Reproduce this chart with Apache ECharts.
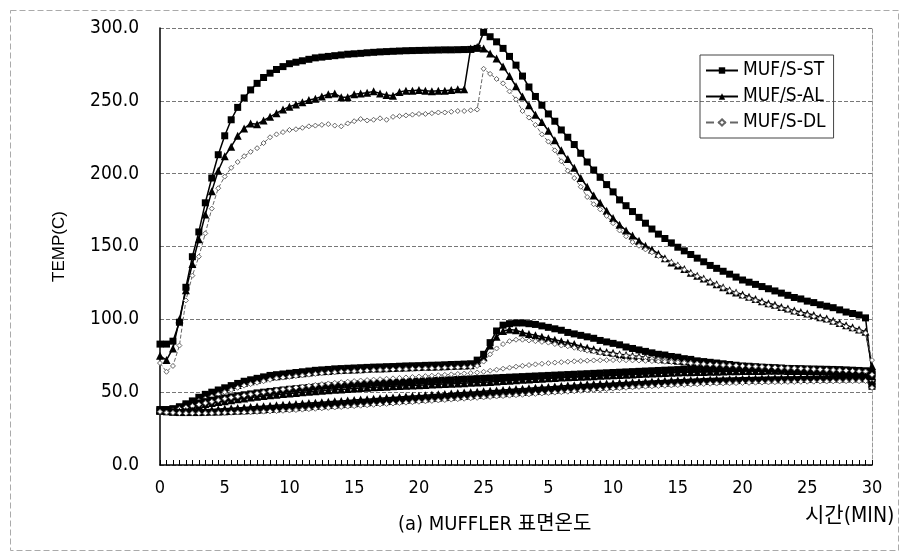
<!DOCTYPE html>
<html>
<head>
<meta charset="utf-8">
<script src="https://cdn.jsdelivr.net/npm/echarts@6/dist/echarts.min.js"></script>
<style>
  html, body { margin: 0; padding: 0; background: #fff; }
  #main { width: 904px; height: 558px; }
</style>
</head>
<body>
<div id="main"></div>
<script>
// time axis: 0..55 min every 0.5 min (heating 0-25, then cooling shown as 5..30)
const xLabels = ['0', '5', '10', '15', '20', '25', '5', '10', '15', '20', '25', '30'];
const yTicks = [0, 50, 100, 150, 200, 250, 300];

// upper group
const stTop = [
  83, 83, 85, 98, 122, 143, 160, 180, 197, 213,
  226, 237, 245.5, 252, 257.5, 262, 266, 269, 271.5, 273.5,
  275.5, 276.5, 277.5, 278.5, 279.5, 280, 280.5, 281, 281.5, 282,
  282.3, 282.6, 283, 283.3, 283.6, 283.8, 284, 284.2, 284.4, 284.5,
  284.6, 284.7, 284.8, 284.9, 285, 285, 285.1, 285.2, 285.3, 286,
  297, 294, 290.5, 286, 280.5, 274.5, 267, 259.5, 253, 247,
  241, 236, 230, 225, 220, 214, 208, 202.5, 197.5, 192.5,
  187.5, 182, 178, 174, 170, 166, 162, 158.5, 155.5, 152.5,
  149.5, 147, 144.5, 142, 139.5, 137, 135, 133, 131, 129,
  127, 125.5, 124, 122.5, 121, 119.5, 118, 116.5, 115, 114,
  112.5, 111.5, 110, 109, 108, 106.5, 105, 104, 103, 101,
  63
];
const alTop = [
  75, 72, 80, 100, 120, 138, 155, 172, 188, 202,
  212, 218.5, 226, 231, 234.5, 234, 236.5, 239, 241.5, 244,
  246, 247.5, 249, 250.5, 251.5, 253, 254.5, 255, 252.5, 252.5,
  254.5, 255, 255.5, 256.5, 255, 254, 253.5, 256, 257, 257,
  257.5, 257, 256.5, 257, 257, 257.5, 258, 258, 286, 287,
  286, 282.5, 279, 273.5, 267, 260, 253, 247, 240.5, 235.5,
  229.5, 223, 216, 210, 204, 197, 191, 185, 180, 174.5,
  169.5, 165, 161, 157.5, 154, 150.5, 148, 145, 142, 139,
  137, 134.5, 132, 130, 128, 126, 124, 122, 120, 118.5,
  117, 115.5, 114, 112.5, 111, 110, 108.5, 107.5, 106, 105,
  104, 103, 101.5, 100.5, 99, 97.5, 96, 94.5, 93, 91.5,
  68
];
const dlTop = [
  70, 64, 68, 82, 113, 130, 143, 159, 176, 190,
  198, 204, 208, 212, 215, 217.5, 221, 225, 227, 228.5,
  230, 230.5, 231.5, 232.5, 233, 233.5, 234, 233, 232.5, 234.5,
  236, 237.5, 236.5, 237, 238, 237, 239, 239.5, 240, 240.5,
  241, 241, 241.5, 242, 242, 242.5, 243, 243, 243.5, 244,
  272, 268.5, 265, 262, 256.5, 251, 243, 238.5, 233.5, 227,
  222, 216, 208.5, 202, 197, 191, 184, 179, 175.5, 171,
  166, 161, 157, 153, 150.5, 148, 146, 143.5, 141, 139,
  137, 134, 131.5, 129.5, 127.5, 125.5, 123.5, 121.5, 119.5, 118,
  116, 114.5, 113, 111.5, 110, 109, 107.5, 106.5, 105, 104,
  103, 102, 100.5, 99.5, 98, 96.5, 95, 93.5, 92, 90.5,
  72
];

// lower group with peak after 25 min
const stOut = [
  38, 38, 38.5, 40, 42, 44, 46.5, 48.5, 50, 51.5,
  53, 54.5, 56, 57.5, 58.5, 59.5, 60.5, 61.5, 62, 62.5,
  63, 63.5, 64, 64.5, 65, 65.3, 65.6, 66, 66.2, 66.4,
  66.6, 66.8, 67, 67.2, 67.3, 67.5, 67.6, 67.8, 68, 68.1,
  68.2, 68.4, 68.5, 68.6, 68.8, 69, 69.1, 69.3, 69.5, 72,
  76, 84, 92, 96, 97, 97.5, 97.5, 97, 96.5, 95.5,
  94.5, 93.5, 92.5, 91, 90, 89, 88, 87, 85.5, 84.5,
  83.5, 82.5, 81, 80, 79, 78, 77, 76, 75.5, 74.5,
  74, 73, 72.5, 71.5, 71, 70.5, 70, 69.5, 69, 68.5,
  68, 67.8, 67.5, 67.2, 67, 66.8, 66.5, 66.2, 66, 65.8,
  65.5, 65.3, 65, 64.8, 64.5, 64.3, 64, 63.8, 63.5, 63.2,
  57
];
const alOut = [
  38, 37.5, 38, 39.5, 41.5, 43.5, 45.5, 47.5, 49, 50.5,
  52, 53.5, 55, 56.5, 57.5, 58.5, 59.5, 60.5, 61, 61.5,
  62, 62.5, 63, 63.5, 64, 64.3, 64.6, 65, 65.2, 65.4,
  65.6, 65.8, 66, 66.2, 66.3, 66.5, 66.6, 66.8, 67, 67.1,
  67.2, 67.4, 67.5, 67.6, 67.8, 68, 68.1, 68.3, 68.5, 70,
  74, 82, 88, 92, 93, 92.5, 91, 90, 89, 88,
  87, 86, 85, 84, 83, 81.5, 80.5, 79.5, 78.5, 77.5,
  77, 76, 75.5, 75, 74.5, 74, 73.5, 73, 72.5, 72,
  71.5, 71, 70.5, 70, 69.5, 69, 68.8, 68.5, 68.2, 68,
  67.5, 67.2, 67, 66.7, 66.5, 66.2, 66, 65.8, 65.5, 65.3,
  65, 64.8, 64.5, 64.3, 64, 63.8, 63.5, 63.2, 63, 62.7,
  60
];
const dlOut = [
  37, 37, 37.5, 38.5, 40, 42, 44, 45.5, 47, 48.5,
  50, 51.5, 53, 54.5, 55.5, 56.5, 57.5, 58.5, 59.5, 60,
  60.5, 61, 61.5, 62, 62.5, 63, 63.3, 63.6, 64, 64.2,
  64.4, 64.6, 64.8, 65, 65.2, 65.4, 65.5, 65.7, 65.8, 66,
  66.1, 66.3, 66.4, 66.5, 66.7, 66.8, 67, 67.1, 67.3, 68,
  71, 76, 80, 83, 85, 86, 86, 85.5, 85, 84.5,
  84, 83, 82, 81.5, 80.5, 79.5, 78.5, 78, 77, 76.5,
  76, 75.5, 75, 74.5, 74, 73.5, 73, 72.5, 72, 71.5,
  71, 70.5, 70, 69.5, 69, 68.7, 68.4, 68, 67.8, 67.5,
  67.2, 67, 66.7, 66.5, 66.2, 66, 65.7, 65.5, 65.2, 65,
  64.8, 64.5, 64.3, 64, 63.8, 63.5, 63.3, 63, 62.8, 62.5,
  58
];

// middle group
const stMid = [
  38, 38, 38.5, 39.5, 40.5, 41.5, 42.5, 43.5, 44.5, 45.3,
  46, 46.8, 47.5, 48.2, 48.8, 49.5, 50, 50.5, 51, 51.5,
  52, 52.4, 52.8, 53.2, 53.6, 54, 54.3, 54.6, 54.9, 55.2,
  55.5, 55.7, 55.9, 56.1, 56.3, 56.5, 56.7, 56.9, 57.1, 57.3,
  57.5, 57.7, 57.9, 58.1, 58.3, 58.5, 58.7, 58.9, 59.1, 59.3,
  59.5, 59.7, 59.9, 60.1, 60.3, 60.5, 60.7, 60.9, 61.1, 61.3,
  61.5, 61.7, 61.9, 62.1, 62.3, 62.5, 62.7, 62.9, 63.1, 63.3,
  63.5, 63.7, 63.9, 64.1, 64.3, 64.5, 64.7, 64.9, 65.1, 65.3,
  65.5, 65.6, 65.7, 65.8, 65.9, 66, 66.1, 66.2, 66.3, 66.4,
  66.5, 66.5, 66.5, 66.5, 66.5, 66.5, 66.4, 66.3, 66.2, 66.1,
  66, 65.9, 65.8, 65.7, 65.6, 65.5, 65.3, 65.1, 64.9, 64.7,
  62
];
const alMid = [
  37.5, 37.5, 38, 38.5, 39.5, 40.3, 41, 41.8, 42.5, 43.2,
  43.8, 44.5, 45.1, 45.7, 46.3, 46.8, 47.3, 47.8, 48.3, 48.7,
  49.1, 49.5, 49.9, 50.3, 50.7, 51, 51.3, 51.6, 51.9, 52.2,
  52.5, 52.8, 53, 53.3, 53.5, 53.8, 54, 54.2, 54.4, 54.6,
  54.8, 55, 55.2, 55.4, 55.6, 55.8, 56, 56.2, 56.4, 56.6,
  56.8, 57, 57.3, 57.6, 57.9, 58.2, 58.5, 58.7, 59, 59.2,
  59.5, 59.7, 60, 60.2, 60.4, 60.6, 60.8, 61, 61.2, 61.4,
  61.6, 61.8, 62, 62.2, 62.4, 62.6, 62.8, 63, 63.2, 63.3,
  63.5, 63.6, 63.7, 63.8, 63.9, 64, 64.1, 64.2, 64.3, 64.4,
  64.5, 64.5, 64.6, 64.6, 64.7, 64.7, 64.7, 64.6, 64.6, 64.5,
  64.5, 64.4, 64.3, 64.2, 64.1, 64, 63.9, 63.8, 63.7, 63.6,
  61
];
const dlMid = [
  37, 37, 37.5, 38.5, 39.5, 40.5, 41.5, 42.5, 43.5, 44.5,
  45.5, 46.3, 47, 47.8, 48.5, 49.2, 49.9, 50.6, 51.3, 52,
  52.6, 53.2, 53.8, 54.4, 55, 55.5, 56, 56.4, 56.8, 57.2,
  57.6, 58, 58.3, 58.6, 58.9, 59.2, 59.5, 59.8, 60.1, 60.4,
  60.7, 61, 61.3, 61.6, 61.9, 62.2, 62.5, 62.8, 63.1, 63.5,
  64, 64.7, 65.4, 66.1, 66.8, 67.5, 68.1, 68.6, 69.1, 69.5,
  69.9, 70.3, 70.6, 70.9, 71.2, 71.4, 71.6, 71.8, 71.9, 72,
  72, 72, 71.9, 71.8, 71.7, 71.5, 71.3, 71.1, 70.9, 70.7,
  70.5, 70.2, 69.9, 69.6, 69.3, 69, 68.8, 68.6, 68.4, 68.2,
  68, 67.8, 67.6, 67.4, 67.2, 67, 66.8, 66.6, 66.4, 66.2,
  66, 65.8, 65.6, 65.4, 65.2, 65, 64.8, 64.6, 64.4, 64.2,
  62
];

// bottom group
const stIn = [
  37, 36.5, 36.2, 36, 36, 36, 36, 36.1, 36.2, 36.3,
  36.5, 36.7, 36.9, 37.1, 37.3, 37.5, 37.8, 38.1, 38.4, 38.7,
  39, 39.3, 39.6, 39.9, 40.2, 40.5, 40.8, 41.1, 41.4, 41.7,
  42, 42.3, 42.6, 42.9, 43.2, 43.5, 43.8, 44.1, 44.4, 44.7,
  45, 45.3, 45.6, 45.9, 46.2, 46.5, 46.8, 47.1, 47.4, 47.7,
  48, 48.3, 48.6, 48.9, 49.2, 49.5, 49.8, 50.1, 50.4, 50.7,
  51, 51.3, 51.6, 51.9, 52.2, 52.5, 52.8, 53.1, 53.4, 53.7,
  54, 54.3, 54.6, 54.9, 55.2, 55.5, 55.7, 55.9, 56.1, 56.3,
  56.5, 56.7, 56.9, 57.1, 57.3, 57.5, 57.6, 57.7, 57.8, 57.9,
  58, 58.1, 58.2, 58.3, 58.4, 58.5, 58.5, 58.6, 58.6, 58.7,
  58.8, 58.8, 58.9, 58.9, 59, 59, 59, 59.1, 59.1, 59.1,
  54
];
const alIn = [
  37.5, 37, 36.8, 36.8, 37, 37.2, 37.4, 37.7, 38, 38.3,
  38.6, 38.9, 39.2, 39.5, 39.8, 40.1, 40.4, 40.7, 41, 41.3,
  41.6, 41.9, 42.2, 42.5, 42.8, 43.1, 43.4, 43.7, 44, 44.3,
  44.6, 44.9, 45.2, 45.5, 45.8, 46.1, 46.4, 46.7, 47, 47.3,
  47.6, 47.9, 48.2, 48.5, 48.8, 49.1, 49.4, 49.7, 50, 50.3,
  50.6, 50.9, 51.2, 51.5, 51.8, 52.1, 52.4, 52.7, 53, 53.3,
  53.6, 53.9, 54.2, 54.5, 54.8, 55.1, 55.4, 55.6, 55.8, 56,
  56.2, 56.4, 56.6, 56.8, 57, 57.2, 57.4, 57.6, 57.8, 58,
  58.2, 58.3, 58.4, 58.5, 58.6, 58.7, 58.8, 58.9, 59, 59.1,
  59.2, 59.3, 59.4, 59.5, 59.6, 59.7, 59.8, 59.9, 60, 60.1,
  60.2, 60.3, 60.4, 60.5, 60.5, 60.6, 60.6, 60.7, 60.7, 60.8,
  56
];
const dlIn = [
  36.5, 36, 35.8, 35.6, 35.5, 35.5, 35.5, 35.5, 35.6, 35.7,
  35.8, 35.9, 36, 36.1, 36.2, 36.4, 36.6, 36.8, 37, 37.2,
  37.4, 37.7, 38, 38.3, 38.6, 38.9, 39.2, 39.5, 39.8, 40.1,
  40.4, 40.7, 41, 41.3, 41.6, 41.9, 42.2, 42.5, 42.8, 43.1,
  43.4, 43.7, 44, 44.3, 44.6, 44.9, 45.2, 45.5, 45.8, 46.1,
  46.4, 46.7, 47, 47.3, 47.6, 47.9, 48.2, 48.5, 48.8, 49.1,
  49.4, 49.7, 50, 50.3, 50.6, 50.9, 51.2, 51.5, 51.8, 52.1,
  52.4, 52.7, 53, 53.3, 53.6, 53.8, 54, 54.2, 54.4, 54.6,
  54.8, 55, 55.2, 55.4, 55.6, 55.8, 55.9, 56, 56.1, 56.2,
  56.3, 56.4, 56.5, 56.6, 56.7, 56.8, 56.9, 57, 57, 57.1,
  57.2, 57.2, 57.3, 57.3, 57.4, 57.4, 57.5, 57.5, 57.5, 57.6,
  53
];

const times = stTop.map((v, i) => String(i * 0.5));
const FONT = "'Liberation Sans Narrow', 'DejaVu Sans Condensed', 'Noto Sans CJK KR', sans-serif";

const styles = {
  'MUF/S-ST': { symbol: 'rect', symbolSize: 7, color: '#000', lw: 1.5, type: 'solid' },
  'MUF/S-AL': { symbol: 'triangle', symbolSize: 8, color: '#000', lw: 1.5, type: 'solid' },
  'MUF/S-DL': { symbol: 'diamond', symbolSize: 5, color: '#666', lw: 1, type: 'dashed' }
};

function mk(name, data) {
  const s = styles[name];
  return {
    name: name,
    type: 'line',
    data: data,
    symbol: s.symbol,
    symbolSize: s.symbolSize,
    showAllSymbol: true,
    itemStyle: name === 'MUF/S-DL'
      ? { color: '#fff', borderColor: s.color, borderWidth: 1 }
      : { color: s.color },
    lineStyle: { color: s.color, width: s.lw, type: s.type },
    emphasis: { disabled: true }
  };
}

const chart = echarts.init(document.getElementById('main'));
chart.setOption({
  animation: false,
  backgroundColor: '#fff',
  grid: { left: 160, right: 32, top: 28, bottom: 93 },
  title: {
    text: '(a) MUFFLER 표면온도',
    left: 393, top: 510,
    textStyle: { fontFamily: FONT, fontSize: 20, fontWeight: 'normal', color: '#000' }
  },
  legend: {
    data: ['MUF/S-ST', 'MUF/S-AL', 'MUF/S-DL'],
    orient: 'vertical',
    left: 700, top: 55,
    itemWidth: 32, itemHeight: 8, itemGap: 7,
    padding: [6, 8, 6, 5],
    borderColor: '#444', borderWidth: 1,
    textStyle: { fontFamily: FONT, fontSize: 19, color: '#000' }
  },
  xAxis: {
    type: 'category',
    data: times,
    boundaryGap: false,
    axisLine: { lineStyle: { color: '#000', width: 1.5 } },
    axisTick: { show: true, interval: 0, inside: true, length: 5, lineStyle: { color: '#000' } },
    axisLabel: {
      interval: 9, margin: 14, color: '#000', fontFamily: FONT, fontSize: 18,
      formatter: (val, idx) => xLabels[idx / 10]
    },
    splitLine: { show: false }
  },
  yAxis: [{
    type: 'value',
    min: yTicks[0], max: yTicks[yTicks.length - 1], interval: 50,
    name: 'TEMP(C)',
    nameLocation: 'middle',
    nameGap: 92,
    nameMoveOverlap: false,
    nameTextStyle: { fontFamily: "'Liberation Sans', sans-serif", fontSize: 17, color: '#000' },
    axisLine: { show: true, lineStyle: { color: '#000', width: 1.5 } },
    axisTick: { show: false },
    axisLabel: { margin: 21, color: '#000', fontFamily: FONT, fontSize: 19, formatter: v => v.toFixed(1) },
    splitLine: { lineStyle: { color: '#777', type: 'dashed', width: 1 } }
  }, {
    type: 'value',
    min: 0, max: 300, interval: 50,
    position: 'right',
    axisLine: { show: true, lineStyle: { color: '#999', type: 'dashed', width: 1 } },
    axisTick: { show: false },
    axisLabel: { show: false },
    splitLine: { show: false }
  }],
  graphic: [
    {
      type: 'rect', left: 8, top: 8, silent: true,
      shape: { width: 888, height: 540 },
      style: { fill: null, stroke: '#aaa', lineWidth: 1, lineDash: [6, 3] }
    },
    {
      type: 'text', left: 805, top: 506, silent: true,
      style: { text: '시간(MIN)', font: "21px 'Liberation Sans Narrow', 'DejaVu Sans Condensed', 'Noto Sans CJK KR', sans-serif", fill: '#000' }
    }
  ],
  series: [
    mk('MUF/S-ST', stTop),
    mk('MUF/S-AL', alTop),
    mk('MUF/S-DL', dlTop),
    mk('MUF/S-ST', stOut),
    mk('MUF/S-AL', alOut),
    mk('MUF/S-DL', dlOut),
    mk('MUF/S-ST', stMid),
    mk('MUF/S-AL', alMid),
    mk('MUF/S-DL', dlMid),
    mk('MUF/S-ST', stIn),
    mk('MUF/S-AL', alIn),
    mk('MUF/S-DL', dlIn)
  ]
});
</script>
</body>
</html>
